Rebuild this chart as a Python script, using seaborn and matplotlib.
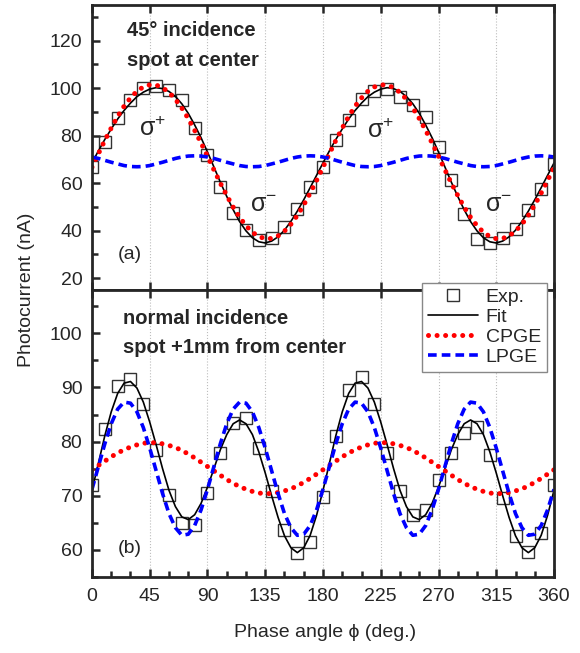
import matplotlib.pyplot as plt
import seaborn as sns
from matplotlib.ticker import MultipleLocator

# phase angles (deg.)
phi_exp = list(range(0, 361, 10))
phi_fit = list(range(0, 361, 5))

# (a) 45 deg incidence, spot at center
exp_a = [66.8, 77.3, 87.5, 95.1, 100.1, 100.7, 99.3, 94.8, 83.3, 72.0,
         58.4, 47.4, 40.2, 36.0, 37.1, 41.6, 48.9, 58.4, 66.8, 78.0,
         86.4, 95.5, 99.0, 99.7, 96.2, 93.1, 87.8, 75.2, 61.2, 47.2,
         36.3, 34.8, 36.7, 40.5, 48.6, 57.7, 68.2]
fit_a = [68.5, 73.6, 78.4, 82.8, 87.0, 90.6, 93.7, 96.4, 98.3, 99.6,
         100.2, 99.8, 98.6, 96.5, 93.4, 89.4, 84.5, 79.1, 73.1, 66.8,
         60.4, 54.4, 48.8, 43.8, 39.9, 37.0, 35.3, 34.8, 35.6, 37.4,
         40.2, 43.9, 48.2, 53.0, 58.1, 63.3,
         68.5, 73.6, 78.4, 82.8, 87.0, 90.6, 93.7, 96.4, 98.3, 99.6,
         100.2, 99.8, 98.6, 96.5, 93.4, 89.4, 84.5, 79.1, 73.1, 66.8,
         60.4, 54.4, 48.8, 43.8, 39.9, 37.0, 35.3, 34.8, 35.6, 37.4,
         40.2, 43.9, 48.2, 53.0, 58.1, 63.3, 68.5]
cpge_a = [66.7, 72.4, 78.0, 83.2, 88.1, 92.4, 95.9, 98.7, 100.5, 101.4,
          101.3, 100.2, 98.2, 95.3, 91.6, 87.2, 82.2, 76.9, 71.3, 65.6,
          60.0, 54.8, 49.9, 45.6, 42.1, 39.3, 37.5, 36.6, 36.7, 37.8,
          39.8, 42.7, 46.4, 50.8, 55.8, 61.1,
          66.7, 72.4, 78.0, 83.2, 88.1, 92.4, 95.9, 98.7, 100.5, 101.4,
          101.3, 100.2, 98.2, 95.3, 91.6, 87.2, 82.2, 76.9, 71.3, 65.6,
          60.0, 54.8, 49.9, 45.6, 42.1, 39.3, 37.5, 36.6, 36.7, 37.8,
          39.8, 42.7, 46.4, 50.8, 55.8, 61.1, 66.7]
lpge_a = [71.0, 70.4, 69.6, 68.8, 68.1, 67.4, 67.0, 66.9, 67.0, 67.4,
          68.1, 68.8, 69.6, 70.4, 71.0, 71.4, 71.5, 71.4,
          71.0, 70.4, 69.6, 68.8, 68.1, 67.4, 67.0, 66.9, 67.0, 67.4,
          68.1, 68.8, 69.6, 70.4, 71.0, 71.4, 71.5, 71.4,
          71.0, 70.4, 69.6, 68.8, 68.1, 67.4, 67.0, 66.9, 67.0, 67.4,
          68.1, 68.8, 69.6, 70.4, 71.0, 71.4, 71.5, 71.4,
          71.0, 70.4, 69.6, 68.8, 68.1, 67.4, 67.0, 66.9, 67.0, 67.4,
          68.1, 68.8, 69.6, 70.4, 71.0, 71.4, 71.5, 71.4, 71.0]

# (b) normal incidence, spot +1mm from center
exp_b = [72.0, 82.3, 90.2, 91.5, 87.0, 78.5, 70.2, 64.9, 64.6, 70.5,
         77.9, 83.5, 84.4, 78.8, 70.8, 63.6, 59.5, 61.4, 69.8, 81.1,
         89.6, 92.0, 87.0, 77.9, 70.8, 66.5, 67.4, 73.0, 77.9, 81.6,
         82.7, 77.6, 69.6, 62.5, 59.7, 63.2, 71.9]
fit_b = [71.0, 76.0, 81.1, 85.5, 88.9, 90.8, 91.1, 89.9, 87.3, 83.6,
         79.4, 75.0, 71.0, 68.0, 66.1, 65.6, 66.5, 68.6, 71.6, 75.0,
         78.5, 81.3, 83.3, 84.0, 83.3, 81.3, 78.1, 74.2, 70.0, 66.0,
         62.6, 60.4, 59.5, 60.4, 62.7, 66.4,
         71.0, 76.0, 81.1, 85.5, 88.9, 90.8, 91.1, 89.9, 87.3, 83.6,
         79.4, 75.0, 71.0, 68.0, 66.1, 65.6, 66.5, 68.6, 71.6, 75.0,
         78.5, 81.3, 83.3, 84.0, 83.3, 81.3, 78.1, 74.2, 70.0, 66.0,
         62.6, 60.4, 59.5, 60.4, 62.7, 66.4, 71.0]
cpge_b = [74.8, 75.6, 76.4, 77.2, 77.9, 78.5, 79.0, 79.4, 79.7, 79.8,
          79.8, 79.6, 79.3, 78.9, 78.4, 77.7, 77.0, 76.2, 75.4, 74.6,
          73.8, 73.0, 72.3, 71.7, 71.2, 70.8, 70.5, 70.4, 70.4, 70.6,
          70.9, 71.3, 71.8, 72.5, 73.2, 74.0,
          74.8, 75.6, 76.4, 77.2, 77.9, 78.5, 79.0, 79.4, 79.7, 79.8,
          79.8, 79.6, 79.3, 78.9, 78.4, 77.7, 77.0, 76.2, 75.4, 74.6,
          73.8, 73.0, 72.3, 71.7, 71.2, 70.8, 70.5, 70.4, 70.4, 70.6,
          70.9, 71.3, 71.8, 72.5, 73.2, 74.0, 74.8]
lpge_b = [71.2, 75.4, 79.6, 83.3, 86.0, 87.3, 87.1, 85.5, 82.6, 78.8,
          74.6, 70.4, 66.7, 64.1, 62.7, 62.9, 64.5, 67.4,
          71.2, 75.4, 79.6, 83.3, 86.0, 87.3, 87.1, 85.5, 82.6, 78.8,
          74.6, 70.4, 66.7, 64.1, 62.7, 62.9, 64.5, 67.4,
          71.2, 75.4, 79.6, 83.3, 86.0, 87.3, 87.1, 85.5, 82.6, 78.8,
          74.6, 70.4, 66.7, 64.1, 62.7, 62.9, 64.5, 67.4,
          71.2, 75.4, 79.6, 83.3, 86.0, 87.3, 87.1, 85.5, 82.6, 78.8,
          74.6, 70.4, 66.7, 64.1, 62.7, 62.9, 64.5, 67.4, 71.2]

sns.set_style("ticks")
plt.rcParams['font.family'] = ['Liberation Sans', 'DejaVu Sans']
plt.rcParams['mathtext.default'] = 'regular'

fig = plt.figure(figsize=(5.8, 6.53), dpi=100)
ax1 = fig.add_axes([0.1586, 0.5559, 0.7966, 0.4364])
ax2 = fig.add_axes([0.1586, 0.1164, 0.7966, 0.4395])


def draw_panel(ax, exp, fit, cpge, lpge):
    sns.lineplot(x=phi_exp, y=exp, ax=ax, marker='s', linestyle='none', ms=9,
                 mfc='none', mec='#333333', mew=1.0, legend=False, label='Exp.')
    sns.lineplot(x=phi_fit, y=fit, ax=ax, color='black', lw=1.2,
                 legend=False, label='Fit')
    sns.lineplot(x=phi_fit, y=cpge, ax=ax, color='#ff0000', lw=3.6,
                 linestyle=(0, (0.01, 1.7)), dash_capstyle='round',
                 legend=False, label='CPGE')
    sns.lineplot(x=phi_fit, y=lpge, ax=ax, color='#0000ff', lw=2.6,
                 linestyle=(0, (2.4, 1.4)), legend=False, label='LPGE')

    ax.set_xlim(0, 360)
    ax.xaxis.set_major_locator(MultipleLocator(45))
    ax.grid(axis='x', linestyle=':', color='#bdbdbd', lw=0.8)
    ax.tick_params(which='both', direction='in', top=True, right=False,
                   width=1.8, labelsize=14)
    ax.tick_params(which='major', length=6)
    ax.tick_params(which='minor', length=4)
    ax.tick_params(axis='y', pad=7)
    ax.tick_params(axis='x', pad=8)
    for s in ax.spines.values():
        s.set_linewidth(2)
    ax.set_xlabel('')
    ax.set_ylabel('')


draw_panel(ax1, exp_a, fit_a, cpge_a, lpge_a)
draw_panel(ax2, exp_b, fit_b, cpge_b, lpge_b)

ax1.set_ylim(15, 135)
ax1.yaxis.set_major_locator(MultipleLocator(20))
ax1.yaxis.set_minor_locator(MultipleLocator(10))
ax1.tick_params(axis='x', labelbottom=False)

ax2.set_ylim(55, 108)
ax2.yaxis.set_major_locator(MultipleLocator(10))
ax2.yaxis.set_minor_locator(MultipleLocator(5))
ax2.xaxis.set_minor_locator(MultipleLocator(15))
ax2.tick_params(axis='x', which='minor', top=False)

# panel texts
ax1.text(0.076, 0.912, '45° incidence', transform=ax1.transAxes,
         fontsize=14.5, fontweight='bold', va='center')
ax1.text(0.076, 0.807, 'spot at center', transform=ax1.transAxes,
         fontsize=14.5, fontweight='bold', va='center')
ax1.text(0.055, 0.123, '(a)', transform=ax1.transAxes, fontsize=14, va='center')
ax2.text(0.067, 0.902, 'normal incidence', transform=ax2.transAxes,
         fontsize=14.5, fontweight='bold', va='center')
ax2.text(0.067, 0.801, 'spot +1mm from center', transform=ax2.transAxes,
         fontsize=14.5, fontweight='bold', va='center')
ax2.text(0.055, 0.098, '(b)', transform=ax2.transAxes, fontsize=14, va='center')

ax1.text(47, 83, r'$\sigma^{+}$', fontsize=18, ha='center', va='center')
ax1.text(225, 82, r'$\sigma^{+}$', fontsize=18, ha='center', va='center')
ax1.text(134, 51, r'$\sigma^{-}$', fontsize=18, ha='center', va='center')
ax1.text(317, 51, r'$\sigma^{-}$', fontsize=18, ha='center', va='center')

# axis labels
fig.text(0.045, 0.556, 'Photocurrent (nA)', rotation=90, fontsize=14,
         ha='center', va='center')
fig.text(0.56, 0.032, 'Phase angle ϕ (deg.)', fontsize=14,
         ha='center', va='center')

handles, labels = ax1.get_legend_handles_labels()
leg = fig.legend(handles, labels, loc='upper right',
                 bbox_to_anchor=(0.943, 0.567), fontsize=14, frameon=True,
                 fancybox=False, edgecolor='#888888', framealpha=1,
                 handlelength=2.6, labelspacing=0.12, borderpad=0.3,
                 handletextpad=0.4, borderaxespad=0)
leg.get_frame().set_linewidth(1.0)

fig.savefig('out.png', dpi=100)
